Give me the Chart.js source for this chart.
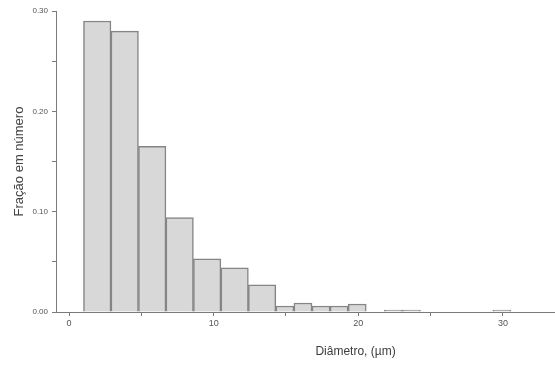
<!DOCTYPE html>
<html>
<head>
<meta charset="utf-8">
<script src="https://cdn.jsdelivr.net/npm/chart.js@4/dist/chart.umd.min.js"></script>
<style>
  html, body { margin: 0; padding: 0; background: #ffffff; }
  #wrap { width: 555px; height: 367px; }
</style>
</head>
<body>
<div id="wrap"><canvas id="hist" width="555" height="367"></canvas></div>
<script>
// Particle size distribution: number fraction per diameter class (µm, bin centres)
const coarseBins      = [1.95, 3.85, 5.75, 7.65, 9.55, 11.45, 13.35];
const coarseFractions = [0.290, 0.280, 0.165, 0.094, 0.053, 0.044, 0.027];

const fineBins        = [14.925, 16.175, 17.425, 18.675, 19.925, 21.175, 22.425,
                         23.675, 24.925, 26.175, 27.425, 28.675, 29.925, 31.175];
const fineFractions   = [0.006, 0.009, 0.006, 0.006, 0.008, null, 0.002,
                         0.002, null, null, null, null, 0.002, null];

const xTickValues = [0, 5, 10, 15, 20, 25, 30];
const yTickValues = [0, 0.05, 0.10, 0.15, 0.20, 0.25, 0.30];

const xTitle = 'Diâmetro, (µm)';
const yTitle = 'Fração em número';

const FONT = '"Liberation Sans", Arial, Helvetica, sans-serif';
const barFill = '#d8d8d8';
const barEdge = '#858585';
const axisGrey = '#7a7a7a';

function toPoints(xs, ys) {
  return xs.map((x, i) => ({ x: x, y: ys[i] }));
}

const barStyle = {
  backgroundColor: barFill,
  borderColor: barEdge,
  borderWidth: 1.5,
  borderSkipped: 'start',
  barThickness: 'flex',
  categoryPercentage: 1,
  barPercentage: 1,
  stack: 'hist'
};

// x-axis caption, set below the tick labels
const axisCaption = {
  id: 'axisCaption',
  afterDraw(chart) {
    const { ctx, chartArea } = chart;
    ctx.save();
    ctx.font = '12px ' + FONT;
    ctx.fillStyle = '#3c3c3c';
    ctx.textAlign = 'center';
    ctx.textBaseline = 'middle';
    ctx.fillText(xTitle, (chartArea.left + chartArea.right) / 2 + 50, chartArea.bottom + 40);
    ctx.restore();
  }
};

new Chart(document.getElementById('hist'), {
  type: 'bar',
  data: {
    datasets: [
      Object.assign({ label: 'coarse', data: toPoints(coarseBins, coarseFractions) }, barStyle),
      Object.assign({ label: 'fine', data: toPoints(fineBins, fineFractions) }, barStyle)
    ]
  },
  options: {
    responsive: false,
    animation: false,
    layout: { padding: { left: 10, right: 0, top: 11, bottom: 0 } },
    plugins: {
      legend: { display: false },
      tooltip: { enabled: false }
    },
    scales: {
      x: {
        type: 'linear',
        min: -0.9,
        max: 33.6,
        offset: false,
        afterBuildTicks: s => { s.ticks = xTickValues.map(v => ({ value: v })); },
        afterFit: s => { s.height = 55; },
        grid: {
          offset: false,
          drawOnChartArea: false,
          drawTicks: true,
          tickLength: 4,
          color: axisGrey
        },
        border: { display: true, color: axisGrey, width: 1 },
        ticks: {
          padding: 2,
          maxRotation: 0,
          autoSkip: false,
          color: '#555555',
          font: { family: FONT, size: 9 },
          callback: v => (v % 10 === 0 ? String(v) : '')
        }
      },
      y: {
        min: 0,
        max: 0.30,
        afterBuildTicks: s => { s.ticks = yTickValues.map(v => ({ value: v })); },
        afterFit: s => { s.width = 46; },
        grid: {
          drawOnChartArea: false,
          drawTicks: true,
          tickLength: 4,
          color: axisGrey
        },
        border: { display: true, color: axisGrey, width: 1 },
        ticks: {
          padding: 4,
          autoSkip: false,
          color: '#555555',
          font: { family: FONT, size: 8 },
          callback: v => (Math.round(v * 100) % 10 === 0 ? v.toFixed(2) : '')
        },
        title: {
          display: true,
          text: yTitle,
          color: '#444444',
          font: { family: FONT, size: 13 },
          padding: { top: 2, bottom: 0 }
        }
      }
    }
  },
  plugins: [axisCaption]
});
</script>
</body>
</html>
